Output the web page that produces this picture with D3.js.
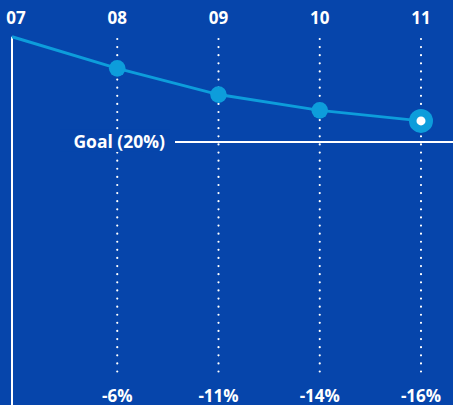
<!DOCTYPE html>
<html>
<head>
<meta charset="utf-8">
<script src="https://cdn.jsdelivr.net/npm/d3@7"></script>
<style>
  html, body { margin: 0; padding: 0; background: #0645ab; }
  svg { display: block; }
  text { font-family: "Open Sans", "Noto Sans", sans-serif; font-weight: 700; fill: #fff; }
</style>
</head>
<body>
<svg id="chart"></svg>
<script>
// chart values
var years = [7, 8, 9, 10, 11];
var yearLabels = ["07", "08", "09", "10", "11"];
var change = [0, -6, -11, -14, -16];
var changeLabels = ["", "-6%", "-11%", "-14%", "-16%"];
var goal = -20;
var goalLabel = "Goal (20%)";

var width = 453, height = 405;
var axisX = 12;

var svg = d3.select("#chart")
    .attr("width", width)
    .attr("height", height);

svg.append("rect")
    .attr("width", width)
    .attr("height", height)
    .attr("fill", "#0645ab");

var x = d3.scaleLinear().domain([7, 11]).range([16, 421]);
var y = d3.scaleLinear().domain([0, -20]).range([36.8, 141.9]);

var data = years.map(function (yr, i) {
    return { year: yr, label: yearLabels[i], value: change[i], pct: changeLabels[i] };
});

// left axis
svg.append("line")
    .attr("x1", axisX).attr("x2", axisX)
    .attr("y1", y(0)).attr("y2", height)
    .attr("stroke", "#fff")
    .attr("stroke-width", 2);

// dotted year lines
svg.selectAll(".grid")
    .data(data.slice(1)).enter()
    .append("line")
    .attr("class", "grid")
    .attr("x1", d => x(d.year)).attr("x2", d => x(d.year))
    .attr("y1", 39).attr("y2", 373)
    .attr("stroke", "#fff")
    .attr("stroke-width", 2.2)
    .attr("stroke-linecap", "round")
    .attr("stroke-dasharray", "0.01 8.1");

// goal line
svg.append("line")
    .attr("x1", 175).attr("x2", width)
    .attr("y1", y(goal)).attr("y2", y(goal))
    .attr("stroke", "#fff")
    .attr("stroke-width", 2);

svg.append("rect")
    .attr("x", 60).attr("y", y(goal) - 12)
    .attr("width", 110).attr("height", 22)
    .attr("fill", "#0645ab");

svg.append("text")
    .attr("x", 165).attr("y", 148)
    .attr("text-anchor", "end")
    .attr("font-size", 17.5)
    .text(goalLabel);

// trend line
var line = d3.line()
    .x(d => d.year === 7 ? axisX : x(d.year))
    .y(d => y(d.value));

svg.append("path")
    .datum(data)
    .attr("d", line)
    .attr("fill", "none")
    .attr("stroke", "#0d9ddb")
    .attr("stroke-width", 3);

var pts = data.slice(1);
svg.selectAll(".dot")
    .data(pts).enter()
    .append("circle")
    .attr("class", "dot")
    .attr("cx", d => x(d.year))
    .attr("cy", d => y(d.value))
    .attr("r", (d, i) => i === pts.length - 1 ? 12 : 8.3)
    .attr("fill", "#0d9ddb");

var last = pts[pts.length - 1];
svg.append("circle")
    .attr("cx", x(last.year))
    .attr("cy", y(last.value))
    .attr("r", 4.5)
    .attr("fill", "#fff");

// year labels
svg.selectAll(".year")
    .data(data).enter()
    .append("text")
    .attr("class", "year")
    .attr("x", d => x(d.year))
    .attr("y", 23.5)
    .attr("text-anchor", "middle")
    .attr("font-size", 17)
    .text(d => d.label);

// change labels
svg.selectAll(".pct")
    .data(pts).enter()
    .append("text")
    .attr("class", "pct")
    .attr("x", d => x(d.year))
    .attr("y", 401.5)
    .attr("text-anchor", "middle")
    .attr("font-size", 17)
    .text(d => d.pct);
</script>
</body>
</html>
